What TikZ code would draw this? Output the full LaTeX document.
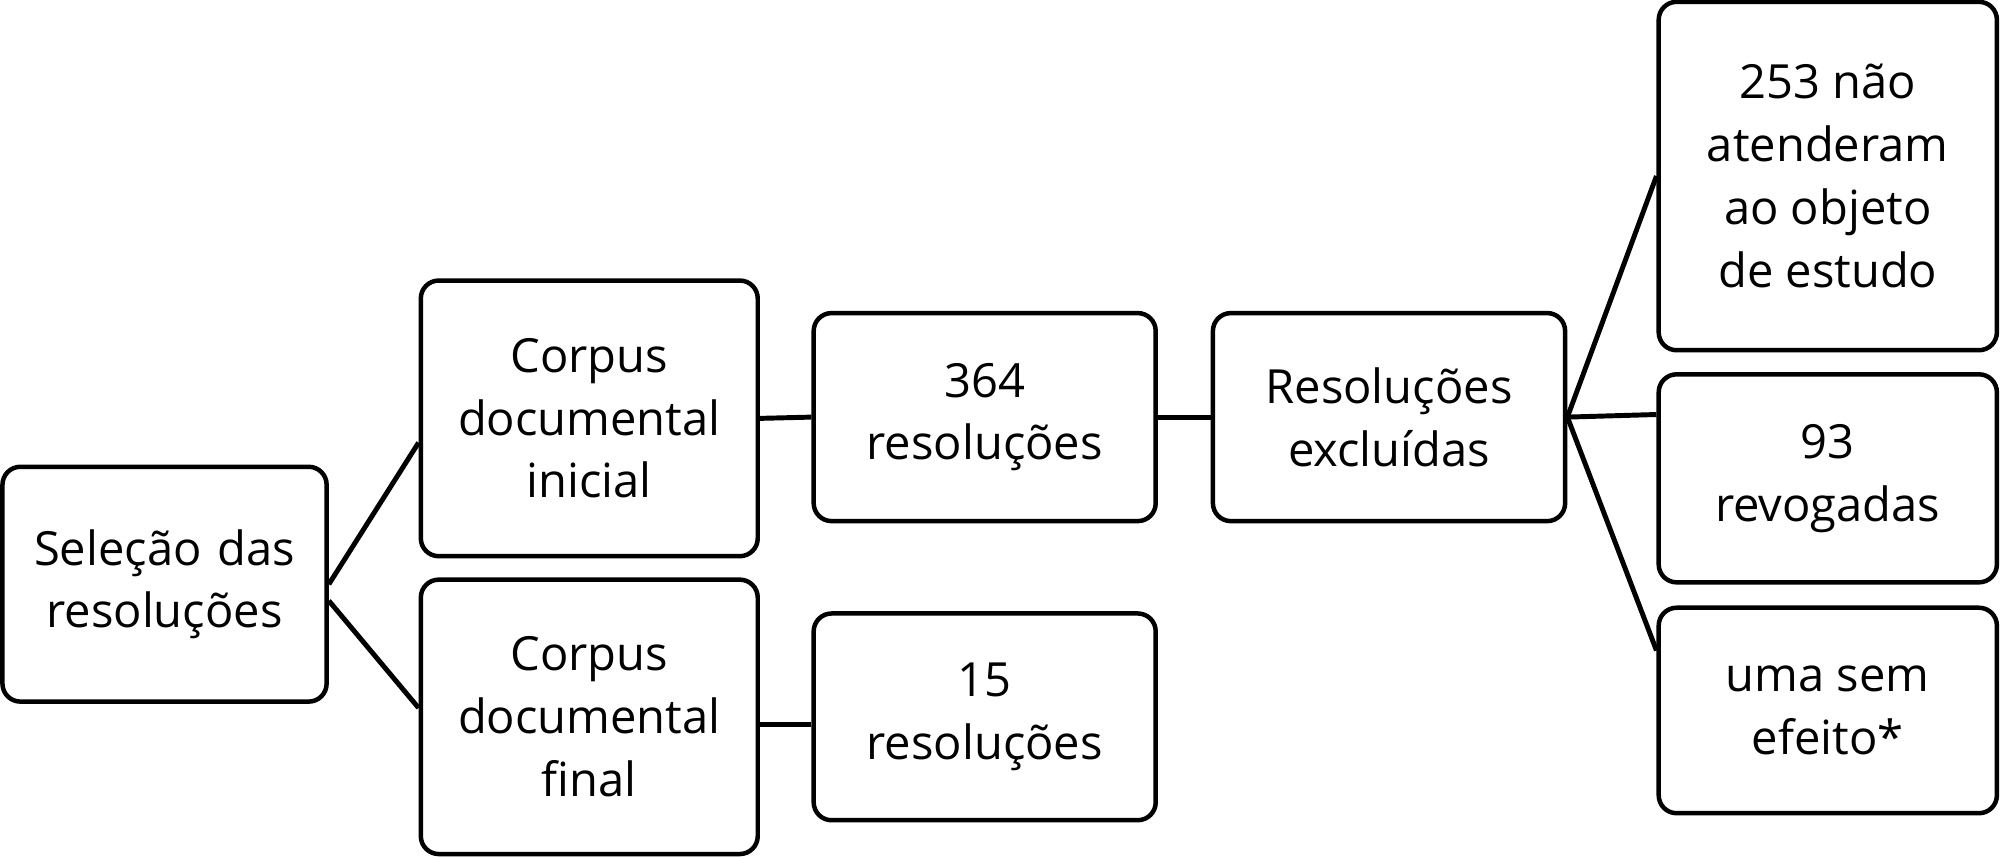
\documentclass[tikz,border=0pt]{standalone}
\usepackage{fontspec}
\setmainfont{Open Sans}
\begin{document}
\begin{tikzpicture}[x=0.01cm,y=-0.01cm,
    box/.style={draw,line width=1pt,rounded corners=4pt,align=center,
      font=\fontsize{10.5}{14}\selectfont,inner sep=0pt},
    link/.style={line width=1.1pt}]
    \useasboundingbox (0,0) rectangle (1568,672);
    \node[box,minimum width=254\pgflinewidth,text width=2.4cm,minimum width=2.54cm,minimum height=1.84cm] (sel) at (129,458) {Seleção das\\resoluções};
    \node[box,minimum width=2.64cm,minimum height=2.16cm] (ini) at (462,328) {Corpus\\documental\\inicial};
    \node[box,minimum width=2.64cm,minimum height=2.15cm] (fin) at (462,562) {Corpus\\documental\\final};
    \node[box,minimum width=2.68cm,minimum height=1.63cm] (r364) at (772,327) {364\\resoluções};
    \node[box,minimum width=2.68cm,minimum height=1.62cm] (r15) at (772,562) {15\\resoluções};
    \node[box,minimum width=2.76cm,minimum height=1.63cm] (exc) at (1089,327) {Resoluções\\excluídas};
    \node[box,minimum width=2.65cm,minimum height=2.73cm] (obj) at (1433,138) {253 não\\atenderam\\ao objeto\\de estudo};
    \node[box,minimum width=2.65cm,minimum height=1.63cm] (rev) at (1433,375) {93\\revogadas};
    \node[box,minimum width=2.65cm,minimum height=1.61cm] (sem) at (1433,557) {uma sem\\efeito*};
    \draw[link] (sel.east) -- ([yshift=-0.19cm]ini.west);
    \draw[link] ([yshift=-0.13cm]sel.east) -- ([yshift=0.07cm]fin.west);
    \draw[link] (ini.east) -- (r364.west);
    \draw[link] ([yshift=-0.06cm]fin.east) -- ([yshift=-0.06cm]r15.west);
    \draw[link] (r364.east) -- (exc.west);
    \draw[link] (exc.east) -- (obj.west);
    \draw[link] (exc.east) -- ([yshift=0.5cm]rev.west);
    \draw[link] (exc.east) -- ([yshift=0.47cm]sem.west);
\end{tikzpicture}
\end{document}
